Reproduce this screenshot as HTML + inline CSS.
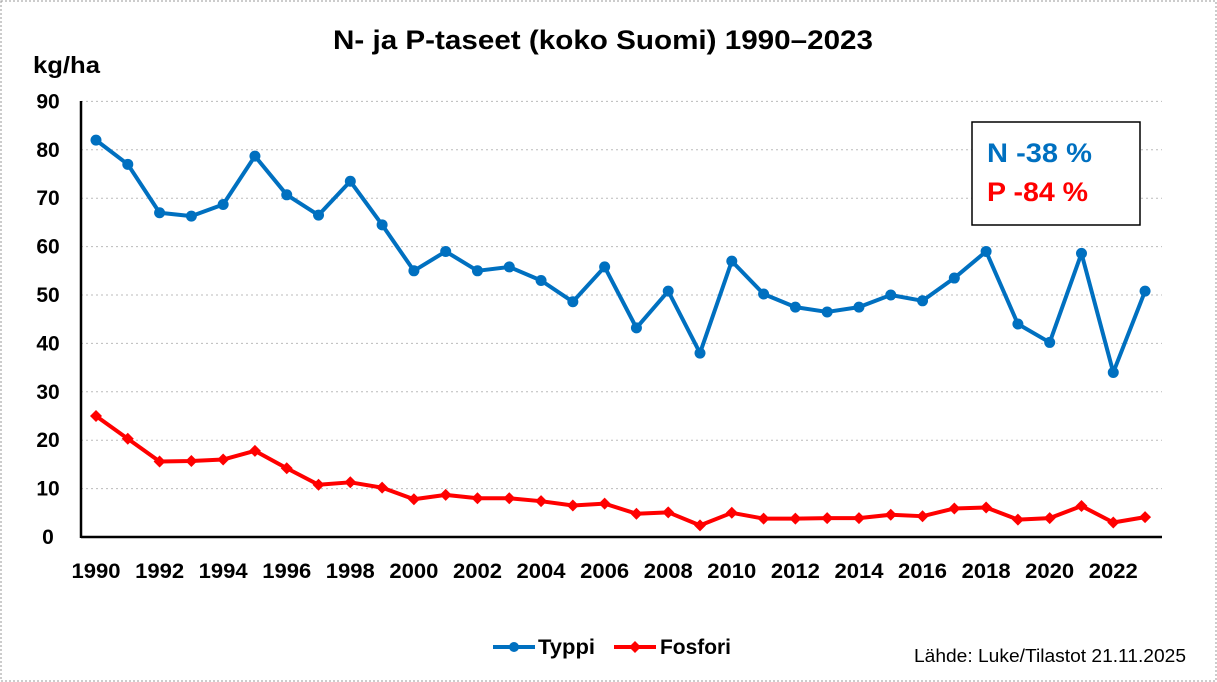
<!DOCTYPE html>
<html><head><meta charset="utf-8"><style>
html,body{margin:0;padding:0;background:#fff;}
svg{display:block;font-family:"Liberation Sans",Arial,sans-serif;}
</style></head><body>
<svg id="c" width="1217" height="682" viewBox="0 0 1217 682" xmlns="http://www.w3.org/2000/svg">
<rect x="1" y="1" width="1215" height="680" fill="#fff" stroke="#999" stroke-dasharray="2,2"/>
<text x="603" y="49" text-anchor="middle" font-size="27" font-weight="bold" textLength="540" lengthAdjust="spacingAndGlyphs">N- ja P-taseet (koko Suomi) 1990–2023</text>
<text x="33" y="73" font-size="23" font-weight="bold" textLength="67" lengthAdjust="spacingAndGlyphs">kg/ha</text>
<g id="grid"></g>
<line x1="81" y1="537" x2="1162" y2="537" stroke="#000" stroke-width="2.5"/>
<line x1="81" y1="101" x2="81" y2="538" stroke="#000" stroke-width="2.5"/>
<g id="series"></g>
<rect x="972" y="122" width="168" height="103" fill="#fff" stroke="#000" stroke-width="1.5"/>
<text x="987" y="162" font-size="27" font-weight="bold" fill="#0070c0" textLength="105" lengthAdjust="spacingAndGlyphs">N -38 %</text>
<text x="987" y="201" font-size="27" font-weight="bold" fill="#ff0000" textLength="101" lengthAdjust="spacingAndGlyphs">P -84 %</text>
<line x1="493" y1="647" x2="535" y2="647" stroke="#0070c0" stroke-width="4"/>
<circle cx="514" cy="647" r="5" fill="#0070c0"/>
<text x="538" y="654" font-size="21" font-weight="bold" textLength="57" lengthAdjust="spacingAndGlyphs">Typpi</text>
<line x1="614" y1="647" x2="656" y2="647" stroke="#ff0000" stroke-width="4"/>
<path d="M635 641 L641 647 L635 653 L629 647Z" fill="#ff0000"/>
<text x="660" y="654" font-size="21" font-weight="bold" textLength="71" lengthAdjust="spacingAndGlyphs">Fosfori</text>
<text x="914" y="662" font-size="18" textLength="272" lengthAdjust="spacingAndGlyphs">Lähde: Luke/Tilastot 21.11.2025</text>
</svg>
<script>
var N=[82,77,67,66.3,68.7,78.7,70.7,66.5,73.5,64.5,55,59,55,55.8,53,48.6,55.8,43.2,50.8,38,57,50.2,47.5,46.5,47.5,50,48.8,53.5,59,44,40.2,58.6,34,50.8];
var P=[25,20.3,15.6,15.7,16,17.8,14.2,10.8,11.3,10.2,7.8,8.7,8,8,7.4,6.5,6.9,4.8,5.1,2.4,5,3.8,3.8,3.9,3.9,4.6,4.3,5.9,6.1,3.6,3.9,6.4,3,4.1];
function X(i){return 96+i*31.79;}function Y(v){return 537-v*4.84;}
var g='',s='';
for(var v=0;v<=90;v+=10){var y=Y(v);if(v>0)g+='<line x1="81" y1="'+y+'" x2="1162" y2="'+y+'" stroke="#bbb" stroke-dasharray="2,3"/>';
g+='<text x="60" y="'+(y+7)+'" text-anchor="middle" font-size="21" font-weight="bold" transform="translate(-12,0)">'+v+'</text>';}
for(var i=0;i<34;i+=2)g+='<text x="'+X(i)+'" y="578" text-anchor="middle" font-size="21" font-weight="bold" textLength="49" lengthAdjust="spacingAndGlyphs">'+(1990+i)+'</text>';
document.getElementById('grid').innerHTML=g;
var pn='',pp='';
for(var i=0;i<34;i++){pn+=X(i)+','+Y(N[i])+' ';pp+=X(i)+','+Y(P[i])+' ';}
s+='<polyline points="'+pn+'" fill="none" stroke="#0070c0" stroke-width="4" stroke-linejoin="round"/>';
s+='<polyline points="'+pp+'" fill="none" stroke="#ff0000" stroke-width="4" stroke-linejoin="round"/>';
for(var i=0;i<34;i++){s+='<circle cx="'+X(i)+'" cy="'+Y(N[i])+'" r="5.5" fill="#0070c0"/>';
var x=X(i),y=Y(P[i]);s+='<path d="M'+x+' '+(y-6)+' L'+(x+6)+' '+y+' L'+x+' '+(y+6)+' L'+(x-6)+' '+y+'Z" fill="#ff0000"/>';}
document.getElementById('series').innerHTML=s;
</script>
</body></html>
